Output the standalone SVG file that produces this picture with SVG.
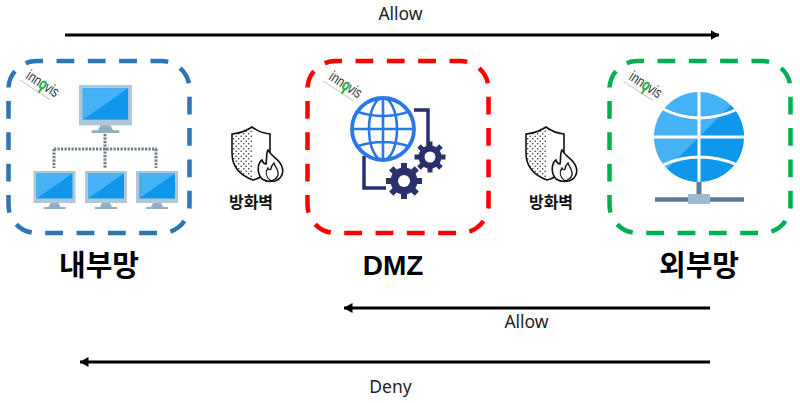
<svg xmlns="http://www.w3.org/2000/svg" width="800" height="403" viewBox="0 0 800 403">
<style>
.box{fill:#fff;stroke-width:4.5;stroke-dasharray:17.8 13.53;stroke-dashoffset:-20}
.title{font-family:"Noto Sans CJK KR","Noto Sans",sans-serif;font-weight:700;font-size:29px;text-anchor:middle;fill:#000}
.latin{font-family:"Liberation Sans",sans-serif;font-weight:700;font-size:28px;text-anchor:middle;fill:#000}
.fw{font-family:"Noto Sans CJK KR",sans-serif;font-weight:700;font-size:16px;text-anchor:middle;fill:#111}
.lbl{font-family:"Noto Sans","Noto Sans CJK KR",sans-serif;font-size:17.5px;text-anchor:middle;fill:#222}
.logo{font-family:"Liberation Sans",sans-serif;font-size:15px;fill:#333}
.conn{stroke:#000;stroke-width:2.8;fill:none;marker-end:url(#ah)}
.dots{stroke:#6f7f88;stroke-width:3;stroke-dasharray:2.2 1.3;fill:none}
.navy{fill:#2B2F6B}
</style>
<defs>
<marker id="ah" markerUnits="userSpaceOnUse" markerWidth="9" markerHeight="10" refX="8.500" refY="5" orient="auto"><path d="M0 0L9 5L0 10z" fill="#000"/></marker>
<pattern id="stip" width="5" height="5" patternUnits="userSpaceOnUse"><circle cx="1.200" cy="1.200" r="0.800" fill="#333"/><circle cx="3.700" cy="3.700" r="0.800" fill="#333"/></pattern>
<g id="logo">
<g transform="translate(25 78) rotate(33)">
<path d="M-3 4.500H33" stroke="#ccc" stroke-width="1"/>
<text class="logo" x="0" y="0" textLength="36" lengthAdjust="spacingAndGlyphs">inn<tspan fill="#2DB34A" stroke="#2DB34A" stroke-width="1.200">o</tspan>vis</text>
<rect x="18.500" y="0" width="2" height="5" fill="#2DB34A"/>
</g>
</g>
<g id="mon">
<rect x="0" y="0" width="42" height="32" fill="#AEC8D8"/>
<rect x="3" y="2.500" width="36" height="25" fill="#0F97EB"/>
<path d="M3 2.500H39L3 27.500z" fill="#45B2F8"/>
<path d="M17 32H25L27 36H32V38H10V36H15z" fill="#8FB0C2"/>
</g>
<g id="shield">
<path d="M232 134Q243 133 252 127V180C240 176 232 168 232 153z" fill="url(#stip)"/>
<path d="M270 153V134Q260 133 252 127Q243 133 232 134V153C232 168 242 176 253 180Q258 179 262 176" fill="none" stroke="#111" stroke-width="1.600"/>
<path d="M262 179C256 172 258 163 262 160C263 163 264 164 266 164C267 158 266 153 268 150C271 156 277 158 280 163C285 170 283 178 275 181C270 182 265 181 262 179z" fill="#fff" stroke="#111" stroke-width="1.600"/>
<path d="M271 181C266 177 265 172 268 168C269 170 270 170 271 169C271 166 273 164 274 163C275 167 279 170 278 175C277 178 275 180 271 181" fill="none" stroke="#111" stroke-width="1.300"/>
</g>
<clipPath id="gclip"><circle cx="699" cy="137" r="45"/></clipPath>
</defs>
<rect width="800" height="403" fill="#fff"/>

<g id="connectors">
<path class="conn" d="M65 35H719"/>
<path class="conn" d="M710 308H344"/>
<path class="conn" d="M710 362H80"/>
</g>
<g id="label-allow-top"><text class="lbl" x="400.500" y="20">Allow</text></g>
<g id="label-allow-mid"><text class="lbl" x="526.500" y="328">Allow</text></g>
<g id="label-deny"><text class="lbl" x="390.500" y="392.500">Deny</text></g>

<g id="internal">
<rect class="box" x="8.500" y="61" width="181" height="172" rx="28" stroke="#2E75B6"/>
<use href="#logo"/>
<g transform="translate(79 85) scale(1.26)"><use href="#mon"/></g>
<path class="dots" d="M105 134V168M54 149H157M54 149V168M156 149V168"/>
<g transform="translate(33.500 171)"><use href="#mon"/></g>
<g transform="translate(85 171)"><use href="#mon"/></g>
<g transform="translate(136 171)"><use href="#mon"/></g>
<text class="title" x="99" y="276">내부망</text>
</g>

<g id="firewall-1">
<use href="#shield"/>
<text class="fw" x="251" y="208">방화벽</text>
</g>

<g id="dmz">
<rect class="box" x="307.500" y="61" width="181" height="172" rx="28" stroke="#FF0000"/>
<use href="#logo" x="303" y="1"/>
<path d="M414 110H428V146M364 156V188H386" fill="none" stroke="#2B2F6B" stroke-width="3.500"/>
<g transform="translate(404 181)">
<g class="navy"><circle r="13.500"/>
<rect x="-3" y="-18" width="6" height="36"/><rect x="-3" y="-18" width="6" height="36" transform="rotate(45)"/><rect x="-3" y="-18" width="6" height="36" transform="rotate(90)"/><rect x="-3" y="-18" width="6" height="36" transform="rotate(135)"/></g>
<circle r="6" fill="#fff"/>
</g>
<g transform="translate(430 157)">
<g class="navy"><circle r="11.500"/>
<rect x="-2.500" y="-15.500" width="5" height="31"/><rect x="-2.500" y="-15.500" width="5" height="31" transform="rotate(45)"/><rect x="-2.500" y="-15.500" width="5" height="31" transform="rotate(90)"/><rect x="-2.500" y="-15.500" width="5" height="31" transform="rotate(135)"/></g>
<circle r="5.500" fill="#fff"/>
</g>
<g fill="none" stroke="#2A78E8" stroke-width="2.600">
<circle cx="383" cy="129" r="31" fill="#fff" stroke-width="3.800"/>
<ellipse cx="383" cy="129" rx="14" ry="31"/>
<path d="M383 98V160M352 129H414M358 112Q383 120 408 112M358 146Q383 138 408 146"/>
</g>
<text class="latin" x="393" y="275">DMZ</text>
</g>

<g id="firewall-2">
<use href="#shield" x="294"/>
<text class="fw" x="551" y="208">방화벽</text>
</g>

<g id="external">
<rect class="box" x="609.500" y="61" width="181" height="172" rx="28" stroke="#00B050"/>
<use href="#logo" x="603" y="1"/>
<g clip-path="url(#gclip)">
<rect x="654" y="92" width="90" height="90" fill="#45B2F8"/>
<path d="M744 92V182H654z" fill="#0F97EB"/>
<path d="M654 137H744M699 92V182M663 109Q699 127 738 109M663 165Q699 149 738 165" fill="none" stroke="#fff" stroke-width="3"/>
</g>
<path d="M699 182V195" stroke="#5F7A8C" stroke-width="5"/>
<path d="M655 199.500H744" stroke="#5F7A8C" stroke-width="4.500"/>
<rect x="688" y="194" width="22" height="10" fill="#9DBAD0"/>
<text class="title" x="699" y="276">외부망</text>
</g>
</svg>
